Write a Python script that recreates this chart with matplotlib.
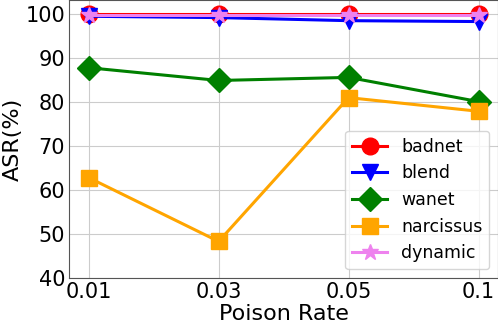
import matplotlib
matplotlib.use("Agg")
import matplotlib.pyplot as plt
import numpy as np

rates = ["0.01", "0.03", "0.05", "0.1"]
badnet = [100.0, 100.0, 100.0, 100.0]
blend = [99.5, 99.2, 98.5, 98.3]
wanet = [87.8, 84.9, 85.6, 80.1]
narcissus = [62.8, 48.3, 81.0, 77.9]
dynamic = [99.8, 99.8, 99.8, 99.8]

series = [
    ("badnet", badnet, "red", "o"),
    ("blend", blend, "blue", "v"),
    ("wanet", wanet, "green", "D"),
    ("narcissus", narcissus, "orange", "s"),
    ("dynamic", dynamic, "violet", "*"),
]

fig = plt.figure(figsize=(4.98, 3.27), dpi=100)
ax = fig.add_axes([0.139, 0.15, 0.861, 0.85])

x = np.arange(len(rates))
for name, vals, col, mk in series:
    ax.plot(x, vals, color=col, marker=mk, markersize=12, linewidth=2.2, label=name)

ax.set_xticks(x)
ax.set_xticklabels(rates)
ax.set_ylim(40, 103.2)
ax.set_yticks([40, 50, 60, 70, 80, 90, 100])
ax.tick_params(labelsize=15, length=0, pad=3)
ax.grid(True, color="#cccccc")
ax.set_axisbelow(True)
for sp in ax.spines.values():
    sp.set_color("#555555")
ax.set_xlabel("Poison Rate", fontsize=16, labelpad=1)
ax.set_ylabel("ASR(%)", fontsize=16, labelpad=2)
ax.legend(loc="lower right", fontsize=12.5)

fig.savefig("out.png", dpi=100)
